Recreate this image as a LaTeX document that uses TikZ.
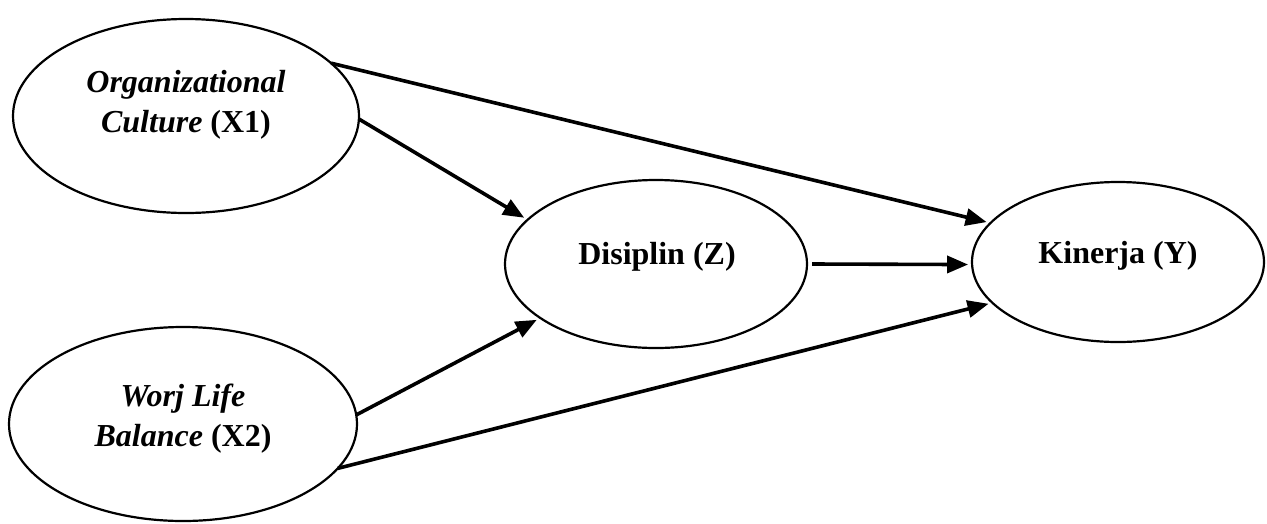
\documentclass[tikz,border=0pt]{standalone}
\usepackage{fontspec}
\setmainfont{Liberation Serif}
\usetikzlibrary{shapes.geometric,arrows.meta}
\begin{document}
\begin{tikzpicture}[x=1pt,y=1pt,
  ell/.style={draw, ellipse, line width=2.2pt, inner sep=0pt, outer sep=0pt},
  lbl/.style={font=\fontsize{32}{40}\selectfont\bfseries, align=center, inner sep=0pt},
  arr/.style={-{Triangle[length=21pt,width=17pt]}, line width=3.6pt, shorten >=4pt}]
\useasboundingbox (0,0) rectangle (1267,-523);
\node[ell, minimum width=346pt, minimum height=194pt] (x1) at (186,-116) {};
\node[ell, minimum width=348pt, minimum height=194pt] (x2) at (183,-424) {};
\node[ell, minimum width=302pt, minimum height=168pt] (z) at (656,-264) {};
\node[ell, minimum width=292pt, minimum height=160pt] (y) at (1118,-262) {};
\node[lbl] (tx1) at (186,-105) {\itshape Organizational\\\itshape Culture \upshape(X1)};
\node[lbl] (tx2) at (183,-419) {\itshape Worj Life\\\itshape Balance \upshape(X2)};
\node[lbl] (tz) at (657,-257) {Disiplin (Z)};
\node[lbl] (ty) at (1118,-256) {Kinerja (Y)};
\draw[arr] (x1.20) -- (y.163);
\draw[arr] (x1.-1) -- (z.161);
\draw[arr] ([xshift=5pt]z.east) -- (y.181);
\draw[arr] (x2.3) -- (z.205);
\draw[arr] (x2.-16) -- (y.198);
\end{tikzpicture}
\end{document}
